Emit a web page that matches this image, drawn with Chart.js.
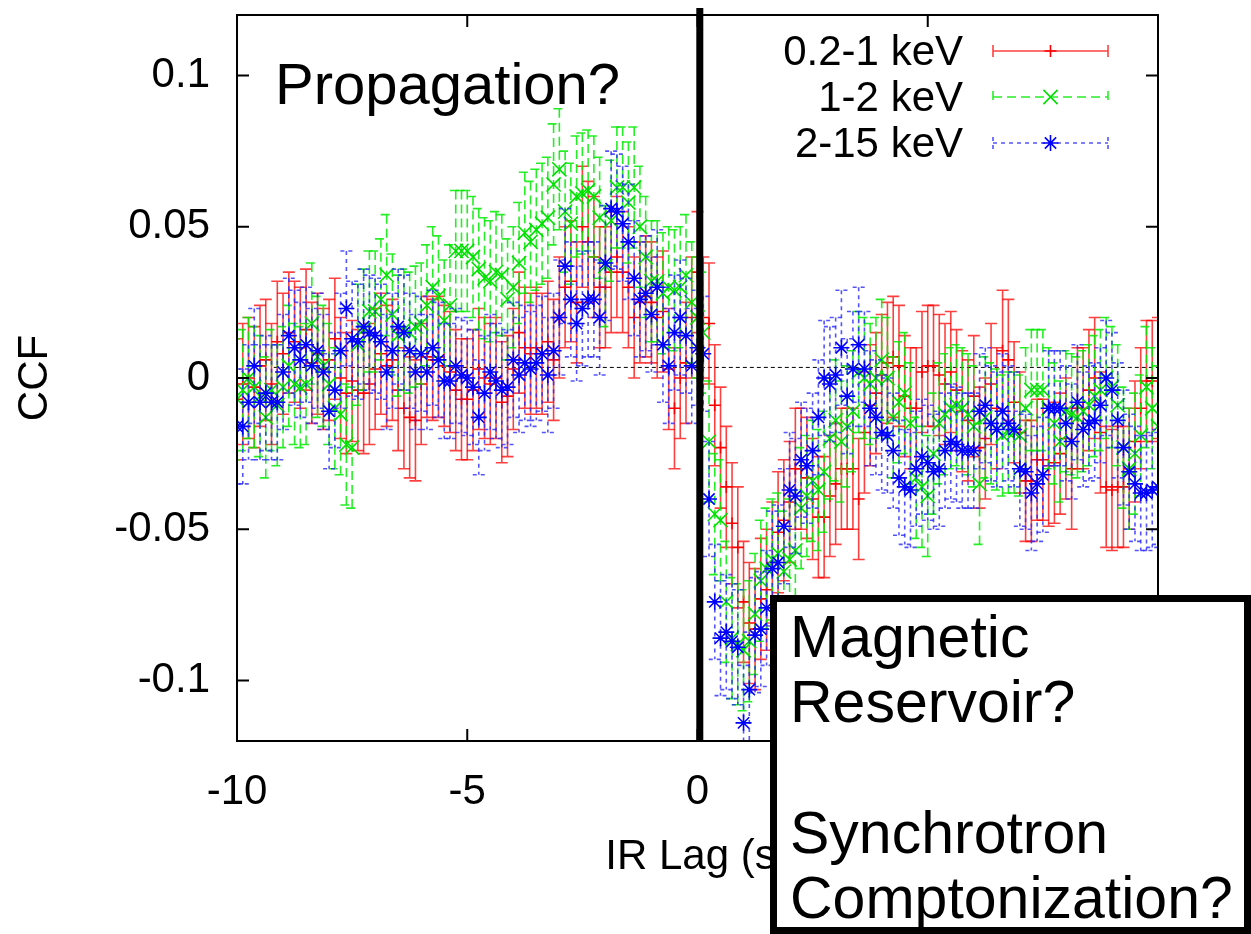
<!DOCTYPE html>
<html>
<head>
<meta charset="utf-8">
<script src="https://cdn.jsdelivr.net/npm/chart.js@4.4.0/dist/chart.umd.min.js"></script>
<style>
  html, body { margin: 0; padding: 0; background: #fff; }
  #ccf { display: block; }
</style>
</head>
<body>
<canvas id="ccf" width="1251" height="934"></canvas>
<script>
// lag grid (s)
const lag = [
  -10, -9.875, -9.75, -9.625, -9.5, -9.375, -9.25, -9.125, -9, -8.875,
  -8.75, -8.625, -8.5, -8.375, -8.25, -8.125, -8, -7.875, -7.75, -7.625,
  -7.5, -7.375, -7.25, -7.125, -7, -6.875, -6.75, -6.625, -6.5, -6.375,
  -6.25, -6.125, -6, -5.875, -5.75, -5.625, -5.5, -5.375, -5.25, -5.125,
  -5, -4.875, -4.75, -4.625, -4.5, -4.375, -4.25, -4.125, -4, -3.875,
  -3.75, -3.625, -3.5, -3.375, -3.25, -3.125, -3, -2.875, -2.75, -2.625,
  -2.5, -2.375, -2.25, -2.125, -2, -1.875, -1.75, -1.625, -1.5, -1.375,
  -1.25, -1.125, -1, -0.875, -0.75, -0.625, -0.5, -0.375, -0.25, -0.125,
  0,
  0.125, 0.25, 0.375, 0.5, 0.625, 0.75, 0.875, 1, 1.125, 1.25,
  1.375, 1.5, 1.625, 1.75, 1.875, 2, 2.125, 2.25, 2.375, 2.5,
  2.625, 2.75, 2.875, 3, 3.125, 3.25, 3.375, 3.5, 3.625, 3.75,
  3.875, 4, 4.125, 4.25, 4.375, 4.5, 4.625, 4.75, 4.875, 5,
  5.125, 5.25, 5.375, 5.5, 5.625, 5.75, 5.875, 6, 6.125, 6.25,
  6.375, 6.5, 6.625, 6.75, 6.875, 7, 7.125, 7.25, 7.375, 7.5,
  7.625, 7.75, 7.875, 8, 8.125, 8.25, 8.375, 8.5, 8.625, 8.75,
  8.875, 9, 9.125, 9.25, 9.375, 9.5, 9.625, 9.75, 9.875, 10
];

// 0.2-1 keV
const ccfSoft = [
  -0.007, -0.002, 0.000, -0.003, 0.004, 0.006, -0.002, 0.012, 0.008, 0.015,
  0.012, 0.010, 0.016, 0.005, 0.008, 0.003, 0.006, 0.013, 0.000, -0.005,
  -0.001, -0.004, -0.005, -0.002, 0.003, 0.008, 0.004, 0.006, -0.004, -0.010,
  -0.013, -0.014, -0.002, 0.007, 0.006, 0.007, 0.004, 0.002, -0.004, -0.007,
  -0.007, -0.004, 0.003, 0.000, -0.002, 0.000, -0.008, -0.006, 0.003, 0.015,
  0.010, 0.008, 0.010, 0.008, 0.012, 0.006, 0.020, 0.030, 0.032, 0.025,
  0.050, 0.045, 0.040, 0.030, 0.030, 0.035, 0.040, 0.035, 0.030, 0.020,
  0.025, 0.027, 0.025, 0.020, 0.022, 0.003, -0.010, 0.000, 0.005, 0.020,
  0.035,
  0.020, 0.018, -0.009, -0.023, -0.036, -0.048, -0.056, -0.074, -0.081, -0.083,
  -0.073, -0.070, -0.061, -0.051, -0.047, -0.041, -0.030, -0.030, -0.033, -0.040,
  -0.046, -0.046, -0.039, -0.035, -0.030, -0.030, -0.030, -0.040, -0.018, -0.009,
  -0.005, 0.001, 0.005, 0.007, 0.004, -0.006, -0.010, -0.010, 0.002, 0.004,
  0.004, 0.001, -0.002, 0.002, -0.004, -0.011, -0.014, -0.006, -0.023, -0.020,
  -0.002, -0.010, 0.009, 0.006, -0.008, -0.018, -0.034, -0.034, -0.027, -0.027,
  -0.029, -0.028, -0.025, -0.020, -0.030, -0.010, -0.010, -0.004, 0.000, -0.018,
  -0.036, -0.037, -0.036, -0.036, -0.030, -0.021, -0.010, -0.001, -0.001, 0.000
];

// 1-2 keV
const ccfMid = [
  -0.007, -0.004, 0.000, -0.003, -0.006, -0.013, -0.004, -0.009, -0.003, 0.004,
  -0.002, -0.003, -0.002, 0.018, 0.007, 0.004, -0.002, -0.010, -0.012, -0.022,
  -0.023, 0.011, 0.016, 0.022, 0.022, 0.026, 0.034, 0.021, 0.014, 0.016,
  0.015, 0.017, 0.018, 0.024, 0.030, 0.027, 0.019, 0.024, 0.042, 0.042,
  0.042, 0.040, 0.036, 0.033, 0.032, 0.035, 0.034, 0.026, 0.030, 0.038,
  0.048, 0.045, 0.049, 0.051, 0.053, 0.064, 0.069, 0.055, 0.051, 0.060,
  0.061, 0.062, 0.060, 0.053, 0.037, 0.052, 0.063, 0.063, 0.058, 0.063,
  0.050, 0.040, 0.032, 0.032, 0.028, 0.030, 0.029, 0.030, 0.034, 0.025,
  0.020,
  0.015, -0.021, -0.045, -0.047, -0.074, -0.086, -0.088, -0.090, -0.087, -0.078,
  -0.067, -0.063, -0.060, -0.058, -0.064, -0.060, -0.057, -0.043, -0.039, -0.034,
  -0.037, -0.031, -0.020, -0.014, -0.021, -0.016, -0.011, 0.002, 0.000, -0.002,
  0.000, 0.006, 0.000, -0.013, -0.008, -0.005, -0.015, -0.033, -0.036, -0.039,
  -0.025, -0.015, -0.012, -0.010, -0.009, -0.010, -0.012, -0.016, -0.035, -0.013,
  -0.015, -0.017, -0.019, -0.018, -0.018, -0.019, -0.010, -0.004, -0.004, -0.004,
  -0.010, -0.015, -0.021, -0.011, -0.012, -0.013, -0.011, -0.009, -0.006, -0.004,
  0.000, -0.003, -0.009, -0.023, -0.030, -0.025, -0.019, -0.003, -0.010, -0.016
];

// 2-15 keV
const ccfHard = [
  -0.016, -0.016, -0.008, 0.004, -0.008, -0.005, -0.008, -0.008, 0.002, 0.014,
  0.010, 0.006, 0.011, 0.004, 0.009, 0.002, -0.011, -0.004, 0.009, 0.023,
  0.013, 0.012, 0.017, 0.015, 0.014, 0.012, 0.002, 0.009, 0.017, 0.015,
  0.009, 0.002, 0.008, 0.002, 0.010, 0.006, -0.001, -0.001, 0.004, 0.001,
  0.000, -0.003, -0.013, -0.005, 0.002, -0.001, -0.004, -0.003, 0.006, 0.001,
  0.005, 0.003, 0.005, 0.008, 0.001, 0.009, 0.020, 0.037, 0.026, 0.018,
  0.023, 0.026, 0.026, 0.020, 0.038, 0.056, 0.055, 0.051, 0.045, 0.033,
  0.026, 0.028, 0.021, 0.030, 0.011, 0.004, 0.015, 0.020, 0.014, 0.004,
  0.010,
  0.008, -0.040, -0.074, -0.086, -0.084, -0.087, -0.089, -0.114, -0.103, -0.085,
  -0.083, -0.076, -0.063, -0.061, -0.049, -0.037, -0.039, -0.027, -0.029, -0.024,
  -0.013, 0.000, -0.002, 0.001, 0.010, -0.006, 0.003, 0.011, 0.003, -0.010,
  -0.013, -0.018, -0.019, -0.024, -0.033, -0.036, -0.037, -0.030, -0.026, -0.028,
  -0.031, -0.030, -0.024, -0.021, -0.022, -0.024, -0.024, -0.024, -0.011, -0.009,
  -0.015, -0.017, -0.011, -0.015, -0.017, -0.030, -0.031, -0.038, -0.035, -0.032,
  -0.010, -0.010, -0.010, -0.015, -0.021, -0.008, -0.017, -0.015, -0.014, -0.009,
  0.000, -0.004, -0.014, -0.023, -0.031, -0.035, -0.038, -0.038, -0.037, -0.036
];

// typical 1-sigma error of each band
const errSoft = 0.020;
const errMid = 0.020;
const errHard = 0.019;

const bandNames = ['0.2-1 keV', '1-2 keV', '2-15 keV'];
const xTicks = [-10, -5, 0, 5, 10];
const yTicks = [-0.1, -0.05, 0, 0.05, 0.1];
const yTickLabels = ['-0.1', '-0.05', '0', '0.05', '0.1'];
const refLevel = 0.0035;        // dotted reference level
const refFrom = -9.2;
const zeroLag = 0.05;           // thick marker at zero lag

const FONT = '"Liberation Sans", Arial, sans-serif';
Chart.defaults.font.family = FONT;
Chart.defaults.color = '#000';

function pts(ys) {
  return lag.map((v, i) => ({ x: v, y: ys[i] }));
}

const plotDeco = {
  id: 'plotDeco',
  beforeDatasetDraw(chart, args) {
    const ds = chart.data.datasets[args.index];
    if (ds.err === undefined) return;
    const { ctx, chartArea: a, scales: { x, y } } = chart;
    ctx.save();
    ctx.beginPath();
    ctx.rect(a.left, a.top, a.right - a.left, a.bottom - a.top);
    ctx.clip();
    ctx.strokeStyle = ds.barColor;
    ctx.lineWidth = 1.6;
    ctx.setLineDash(ds.barDash);
    ds.data.forEach(p => {
      const px = x.getPixelForValue(p.x);
      const y1 = y.getPixelForValue(p.y + ds.err);
      const y2 = y.getPixelForValue(p.y - ds.err);
      ctx.beginPath();
      ctx.moveTo(px, y1); ctx.lineTo(px, y2);
      ctx.moveTo(px - 6, y1); ctx.lineTo(px + 6, y1);
      ctx.moveTo(px - 6, y2); ctx.lineTo(px + 6, y2);
      ctx.stroke();
    });
    ctx.restore();
  },
  afterDatasetsDraw(chart) {
    const { ctx, chartArea: a, scales: { x } } = chart;
    // thick zero-lag bar
    ctx.save();
    ctx.strokeStyle = '#000';
    ctx.lineWidth = 7;
    const zx = x.getPixelForValue(zeroLag);
    ctx.beginPath();
    ctx.moveTo(zx, a.top - 7);
    ctx.lineTo(zx, a.bottom);
    ctx.stroke();
    ctx.restore();
  },
  afterDraw(chart) {
    const { ctx, chartArea: a, scales: { x, y } } = chart;
    ctx.save();
    // frame + inward ticks (gnuplot style)
    ctx.strokeStyle = '#000';
    ctx.lineWidth = 2;
    ctx.strokeRect(a.left, a.top, a.right - a.left, a.bottom - a.top);
    ctx.beginPath();
    yTicks.forEach(v => {
      const py = y.getPixelForValue(v);
      ctx.moveTo(a.left, py); ctx.lineTo(a.left + 12, py);
      ctx.moveTo(a.right, py); ctx.lineTo(a.right - 12, py);
    });
    xTicks.forEach(v => {
      const px = x.getPixelForValue(v);
      ctx.moveTo(px, a.bottom); ctx.lineTo(px, a.bottom - 12);
      ctx.moveTo(px, a.top); ctx.lineTo(px, a.top + 12);
    });
    ctx.stroke();

    // legend
    ctx.font = '42px ' + FONT;
    ctx.fillStyle = '#000';
    ctx.textAlign = 'right';
    ctx.textBaseline = 'alphabetic';
    const sets = chart.data.datasets.filter(d => d.err !== undefined);
    sets.forEach((d, i) => {
      const ly = a.top + 36 + i * 46;
      ctx.fillText(d.label, a.right - 195, ly + 14);
      const x1 = a.right - 165, x2 = a.right - 50;
      ctx.strokeStyle = d.barColor;
      ctx.lineWidth = 1.6;
      ctx.setLineDash(d.barDash);
      ctx.beginPath();
      ctx.moveTo(x1, ly); ctx.lineTo(x2, ly);
      ctx.moveTo(x1, ly - 6); ctx.lineTo(x1, ly + 6);
      ctx.moveTo(x2, ly - 6); ctx.lineTo(x2, ly + 6);
      ctx.stroke();
      ctx.setLineDash([]);
      ctx.strokeStyle = d.borderColor;
      ctx.lineWidth = d.borderWidth;
      Chart.helpers.drawPoint(ctx, { pointStyle: d.pointStyle, radius: d.pointRadius, borderWidth: d.borderWidth, rotation: 0 }, (x1 + x2) / 2, ly);
    });

    // annotations
    ctx.textAlign = 'left';
    ctx.font = '58px ' + FONT;
    ctx.fillText('Propagation?', 275, 104);

    ctx.fillStyle = '#fff';
    ctx.fillRect(770, 595, 490, 345);
    ctx.strokeStyle = '#000';
    ctx.lineWidth = 7;
    ctx.strokeRect(773.5, 598.5, 474, 332);
    ctx.fillStyle = '#000';
    ctx.font = '59px ' + FONT;
    ctx.fillText('Magnetic', 790, 657);
    ctx.fillText('Reservoir?', 790, 722);
    ctx.fillText('Synchrotron', 790, 853);
    ctx.fillText('Comptonization?', 790, 918);
    ctx.restore();
  }
};

new Chart(document.getElementById('ccf'), {
  type: 'scatter',
  data: {
    datasets: [
      {
        label: bandNames[0], data: pts(ccfSoft), err: errSoft,
        pointStyle: 'cross', pointRadius: 6, borderColor: '#ff0000', backgroundColor: '#ff0000',
        borderWidth: 1.6, barColor: 'rgba(255,0,0,0.75)', barDash: [], order: 3
      },
      {
        label: bandNames[1], data: pts(ccfMid), err: errMid,
        pointStyle: 'crossRot', pointRadius: 10, borderColor: '#00e000', backgroundColor: '#00e000',
        borderWidth: 1.6, barColor: 'rgba(0,235,0,0.85)', barDash: [9, 5], order: 2
      },
      {
        label: bandNames[2], data: pts(ccfHard), err: errHard,
        pointStyle: 'star', pointRadius: 8, borderColor: '#0000ff', backgroundColor: '#0000ff',
        borderWidth: 1.6, barColor: 'rgba(40,40,255,0.8)', barDash: [4, 4], order: 1
      },
      {
        label: 'ref', data: [{ x: refFrom, y: refLevel }, { x: xTicks[xTicks.length - 1], y: refLevel }],
        showLine: true, borderColor: '#000', borderWidth: 1, borderDash: [4, 3],
        pointRadius: 0, order: 4
      }
    ]
  },
  options: {
    responsive: false,
    animation: false,
    devicePixelRatio: 1,
    layout: { padding: { top: 15, right: 93, left: 0, bottom: 0 } },
    plugins: { legend: { display: false }, tooltip: { enabled: false } },
    scales: {
      x: {
        type: 'linear', min: -10, max: 10,
        afterBuildTicks: s => { s.ticks = xTicks.map(v => ({ value: v })); },
        afterFit: s => { s.height = 193; s.paddingLeft = 0; s.paddingRight = 0; },
        grid: { display: false }, border: { display: false },
        ticks: { font: { size: 42 }, color: '#000', padding: 18, maxRotation: 0, callback: v => String(v) },
        title: { display: true, text: 'IR Lag (s)', font: { size: 42 }, color: '#000', padding: { top: 0, bottom: 51 } }
      },
      y: {
        min: -0.12, max: 0.12,
        afterBuildTicks: s => { s.ticks = yTicks.map(v => ({ value: v })); },
        afterFit: s => { s.width = 237; s.paddingTop = 0; s.paddingBottom = 0; },
        grid: { display: false }, border: { display: false },
        ticks: { font: { size: 42 }, color: '#000', padding: 19,
          callback: (v) => yTickLabels[yTicks.findIndex(t => Math.abs(t - v) < 1e-9)] },
        title: { display: true, text: 'CCF', font: { size: 42 }, color: '#000', padding: { top: 10, bottom: 0 } }
      }
    }
  },
  plugins: [plotDeco]
});
</script>
</body>
</html>
